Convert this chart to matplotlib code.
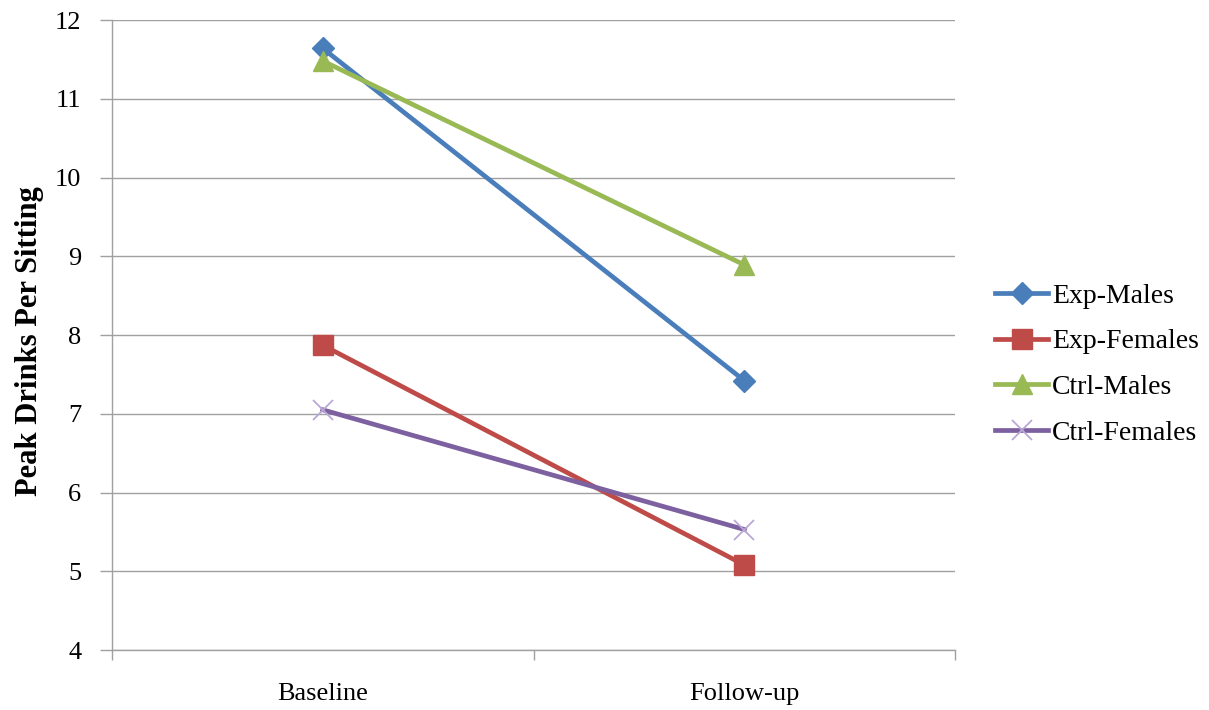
import matplotlib
matplotlib.use("Agg")
import matplotlib.pyplot as plt

# --- data ---
categories = ["Baseline", "Follow-up"]
series_names = ["Exp-Males", "Exp-Females", "Ctrl-Males", "Ctrl-Females"]
exp_males = [11.64, 7.42]
exp_females = [7.87, 5.08]
ctrl_males = [11.48, 8.89]
ctrl_females = [7.05, 5.53]
y_ticks = [4, 5, 6, 7, 8, 9, 10, 11, 12]

plt.rcParams['font.family'] = ['Liberation Serif', 'DejaVu Serif']

fig = plt.figure(figsize=(12.09, 7.1), dpi=100)
ax = fig.add_axes([0.0926, 0.0845, 0.6975, 0.8873])

x = list(range(len(categories)))

# (values, colour, marker, marker size)
styles = [
    (exp_males, "#4A7EBB", "D", 11),
    (exp_females, "#BE4B48", "s", 14),
    (ctrl_males, "#98B954", "^", 15),
    (ctrl_females, "#7D60A0", "x", 15),
]

for name, (vals, color, marker, ms) in zip(series_names, styles):
    if marker == "x":
        ax.plot(x, vals, color=color, linewidth=3.4, marker=marker, markersize=ms,
                markeredgecolor="#B9A8D6", markeredgewidth=1.3, label=name, zorder=3)
    else:
        ax.plot(x, vals, color=color, linewidth=3.4, marker=marker, markersize=ms,
                markeredgecolor=color, markeredgewidth=1, label=name, zorder=3)

# axes setup
ax.set_xlim(-0.5, 1.5)
ax.set_ylim(4, 12)
ax.set_yticks(y_ticks)
ax.set_xticks(x)
ax.set_xticklabels(categories, fontsize=19)
ax.tick_params(axis='x', length=0, pad=24)
ax.tick_params(axis='y', length=9, width=1, color="#A0A0A0", labelsize=19, pad=13)

# category separators (minor ticks at boundaries)
ax.set_xticks([-0.5, 0.5, 1.5], minor=True)
ax.tick_params(axis='x', which='minor', length=7, width=1, color="#A0A0A0")

ax.yaxis.grid(True, color="#A0A0A0", linewidth=1)
ax.set_axisbelow(True)
for side in ["top", "right"]:
    ax.spines[side].set_visible(False)
for side in ["left", "bottom"]:
    ax.spines[side].set_color("#A0A0A0")
    ax.spines[side].set_linewidth(1)

ax.set_ylabel("Peak Drinks Per Sitting", fontsize=22, fontweight='bold')
ax.yaxis.set_label_coords(-0.081, 0.49)

leg = ax.legend(loc="center left", bbox_to_anchor=(1.018, 0.453), frameon=False,
                fontsize=20, handlelength=1.9, handletextpad=0.15, labelspacing=0.73)

fig.savefig("out.png", dpi=100)
